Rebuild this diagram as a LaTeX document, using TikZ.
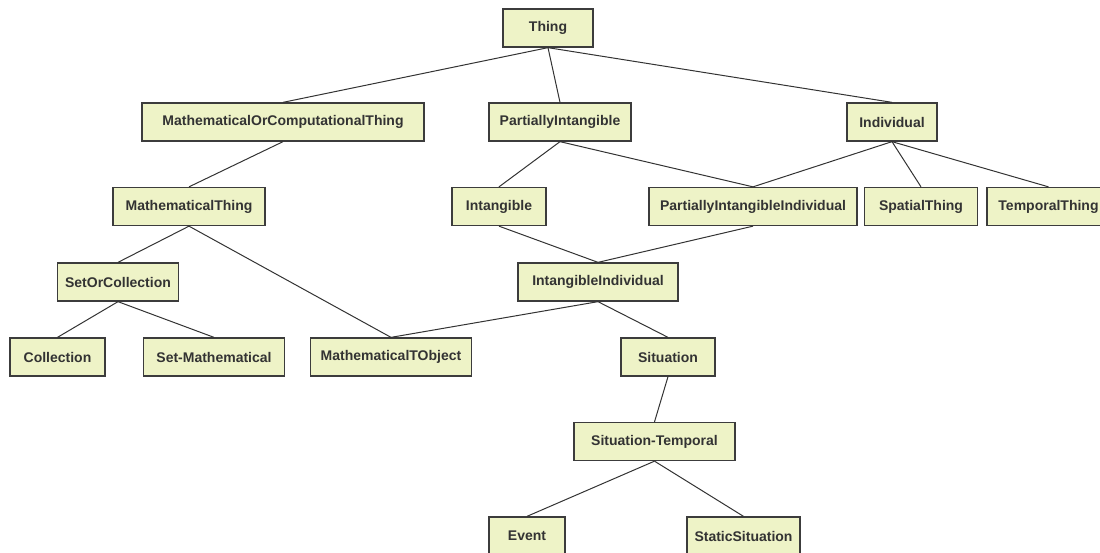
\documentclass[tikz,border=0pt]{standalone}
\usepackage{fontspec}
\setmainfont{Liberation Sans}
\usetikzlibrary{positioning}
\definecolor{boxfill}{RGB}{238,243,199}
\definecolor{boxline}{RGB}{60,60,60}
\definecolor{textgray}{RGB}{51,51,51}
\tikzstyle{concept} = [rectangle,
minimum height=38pt,
inner xsep=2pt,
text centered,
draw=boxline,
line width=1.3pt,
fill=boxfill,
text=textgray,
font=\fontsize{14}{16}\selectfont\bfseries]
\tikzstyle{edge} = [line width=1pt,draw=textgray]

\begin{document}
\begin{tikzpicture}[x=1pt,y=-1pt]
\useasboundingbox (0,0) rectangle (1100,552);

\node (thing) [concept, minimum width=90pt] at (548,28) {Thing};
\node (mathcomp) [concept, minimum width=282pt] at (283,122) {MathematicalOrComputationalThing};
\node (partint) [concept, minimum width=142pt] at (560,122) {PartiallyIntangible};
\node (indiv) [concept, minimum width=90pt] at (892,122) {Individual};
\node (maththing) [concept, minimum width=152pt] at (189,206.5) {MathematicalThing};
\node (intang) [concept, minimum width=94pt] at (499,206.5) {Intangible};
\node (partintind) [concept, minimum width=208pt] at (753,206.5) {PartiallyIntangibleIndividual};
\node (spatial) [concept, minimum width=113pt] at (921,206.5) {SpatialThing};
\node (temporal) [concept, minimum width=123pt] at (1048.5,206.5) {TemporalThing};
\node (setcoll) [concept, minimum width=121pt] at (118,282) {SetOrCollection};
\node (intind) [concept, minimum width=160pt] at (598,282) {IntangibleIndividual};
\node (coll) [concept, minimum width=95pt] at (57.5,357) {Collection};
\node (setmath) [concept, minimum width=141pt] at (214,357) {Set-Mathematical};
\node (mathobj) [concept, minimum width=161pt] at (391,357) {MathematicalTObject};
\node (sit) [concept, minimum width=94pt] at (668,357) {Situation};
\node (sittemp) [concept, minimum width=161pt] at (654.5,441.5) {Situation-Temporal};
\node (event) [concept, minimum width=76pt] at (527,536) {Event};
\node (staticsit) [concept, minimum width=113pt] at (743.5,536) {StaticSituation};

\draw [edge] (thing.south) -- (mathcomp.north);
\draw [edge] (thing.south) -- (partint.north);
\draw [edge] (thing.south) -- (indiv.north);
\draw [edge] (mathcomp.south) -- (maththing.north);
\draw [edge] (partint.south) -- (intang.north);
\draw [edge] (partint.south) -- (partintind.north);
\draw [edge] (indiv.south) -- (partintind.north);
\draw [edge] (indiv.south) -- (spatial.north);
\draw [edge] (indiv.south) -- (temporal.north);
\draw [edge] (maththing.south) -- (setcoll.north);
\draw [edge] (maththing.south) -- (mathobj.north);
\draw [edge] (intang.south) -- (intind.north);
\draw [edge] (partintind.south) -- (intind.north);
\draw [edge] (setcoll.south) -- (coll.north);
\draw [edge] (setcoll.south) -- (setmath.north);
\draw [edge] (intind.south) -- (mathobj.north);
\draw [edge] (intind.south) -- (sit.north);
\draw [edge] (sit.south) -- (sittemp.north);
\draw [edge] (sittemp.south) -- (event.north);
\draw [edge] (sittemp.south) -- (staticsit.north);

\end{tikzpicture}
\end{document}
